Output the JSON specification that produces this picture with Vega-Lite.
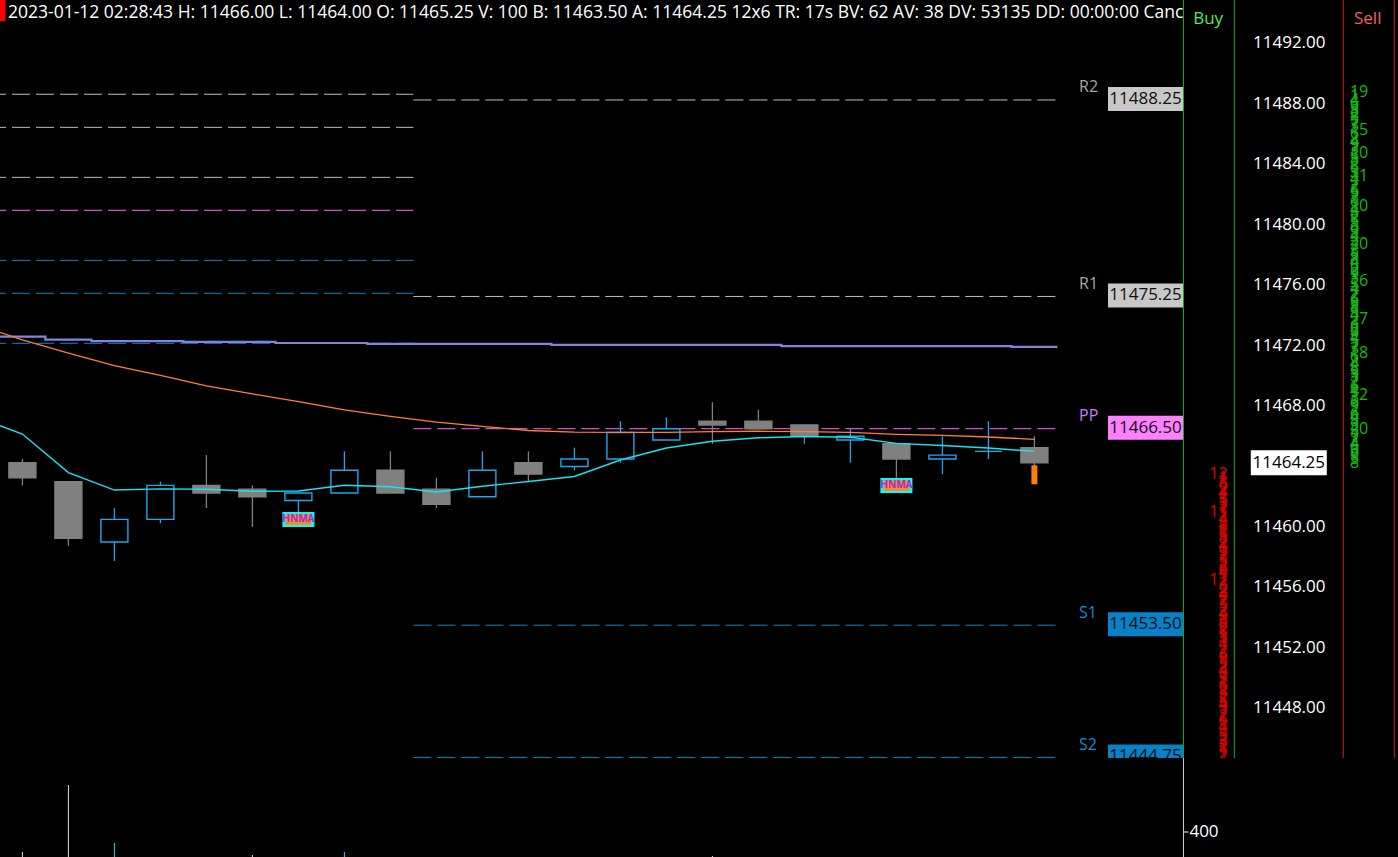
{
  "$schema": "https://vega.github.io/schema/vega-lite/v6.json",
  "width": 1398,
  "height": 857,
  "autosize": {"type": "none"},
  "padding": 0,
  "background": "#000000",
  "config": {
    "view": {"stroke": null},
    "font": "Open Sans",
    "axis": {"disable": true},
    "legend": {"disable": true},
    "scale": {"continuousPadding": 0}
  },
  "datasets": {
    "bars": [
      {"i": 1, "o": 11464.25, "h": 11464.5, "l": 11462.75, "c": 11463.25, "dir": "down", "vol": 240},
      {"i": 2, "o": 11463.0, "h": 11463.0, "l": 11458.75, "c": 11459.25, "dir": "down", "vol": 776},
      {"i": 3, "o": 11459.0, "h": 11461.25, "l": 11457.75, "c": 11460.5, "dir": "up", "vol": 312},
      {"i": 4, "o": 11460.5, "h": 11463.0, "l": 11460.25, "c": 11462.75, "dir": "up", "vol": 150},
      {"i": 5, "o": 11462.75, "h": 11464.75, "l": 11461.25, "c": 11462.25, "dir": "down", "vol": 120},
      {"i": 6, "o": 11462.5, "h": 11462.75, "l": 11460.0, "c": 11462.0, "dir": "down", "vol": 216},
      {"i": 7, "o": 11461.75, "h": 11462.25, "l": 11461.0, "c": 11462.25, "dir": "up", "vol": 90},
      {"i": 8, "o": 11462.25, "h": 11465.0, "l": 11462.25, "c": 11463.75, "dir": "up", "vol": 240},
      {"i": 9, "o": 11463.75, "h": 11465.0, "l": 11462.25, "c": 11462.25, "dir": "down", "vol": 160},
      {"i": 10, "o": 11462.5, "h": 11463.25, "l": 11461.25, "c": 11461.5, "dir": "down", "vol": 130},
      {"i": 11, "o": 11462.0, "h": 11465.0, "l": 11462.0, "c": 11463.75, "dir": "up", "vol": 110},
      {"i": 12, "o": 11464.25, "h": 11465.0, "l": 11463.0, "c": 11463.5, "dir": "down", "vol": 140},
      {"i": 13, "o": 11464.0, "h": 11465.25, "l": 11463.75, "c": 11464.5, "dir": "up", "vol": 95},
      {"i": 14, "o": 11464.5, "h": 11467.0, "l": 11464.25, "c": 11466.25, "dir": "up", "vol": 150},
      {"i": 15, "o": 11465.75, "h": 11467.25, "l": 11465.75, "c": 11466.5, "dir": "up", "vol": 120},
      {"i": 16, "o": 11467.0, "h": 11468.25, "l": 11465.5, "c": 11466.75, "dir": "down", "vol": 208},
      {"i": 17, "o": 11467.0, "h": 11467.75, "l": 11466.5, "c": 11466.5, "dir": "down", "vol": 100},
      {"i": 18, "o": 11466.75, "h": 11466.75, "l": 11465.5, "c": 11466.0, "dir": "down", "vol": 80},
      {"i": 19, "o": 11465.75, "h": 11466.5, "l": 11464.25, "c": 11466.0, "dir": "up", "vol": 120},
      {"i": 20, "o": 11465.5, "h": 11465.5, "l": 11463.25, "c": 11464.5, "dir": "down", "vol": 140},
      {"i": 21, "o": 11464.5, "h": 11466.0, "l": 11463.5, "c": 11464.75, "dir": "up", "vol": 90},
      {"i": 22, "o": 11465.0, "h": 11467.0, "l": 11464.5, "c": 11465.0, "dir": "up", "vol": 110},
      {"i": 23, "o": 11465.25, "h": 11466.0, "l": 11464.0, "c": 11464.25, "dir": "down", "vol": 100}
    ],
    "ma": [
      {"i": 0.513, "p": 11466.70}, {"i": 1, "p": 11466.15}, {"i": 2, "p": 11463.60}, {"i": 3, "p": 11462.44},
      {"i": 4, "p": 11462.52}, {"i": 5, "p": 11462.49}, {"i": 6, "p": 11462.36}, {"i": 7, "p": 11462.38},
      {"i": 8, "p": 11462.76}, {"i": 9, "p": 11462.66}, {"i": 10, "p": 11462.31}, {"i": 11, "p": 11462.69},
      {"i": 12, "p": 11463.01}, {"i": 13, "p": 11463.34}, {"i": 14, "p": 11464.43}, {"i": 15, "p": 11465.22},
      {"i": 16, "p": 11465.67}, {"i": 17, "p": 11465.90}, {"i": 18, "p": 11465.98}, {"i": 19, "p": 11465.93},
      {"i": 20, "p": 11465.53}, {"i": 21, "p": 11465.39}, {"i": 22, "p": 11465.22}, {"i": 23, "p": 11465.00}
    ],
    "ema": [
      {"i": 0.513, "p": 11472.88}, {"i": 1, "p": 11472.38}, {"i": 2, "p": 11471.50}, {"i": 3, "p": 11470.67},
      {"i": 4, "p": 11470.03}, {"i": 5, "p": 11469.34}, {"i": 6, "p": 11468.80}, {"i": 7, "p": 11468.29},
      {"i": 8, "p": 11467.74}, {"i": 9, "p": 11467.31}, {"i": 10, "p": 11466.93}, {"i": 11, "p": 11466.65},
      {"i": 12, "p": 11466.38}, {"i": 13, "p": 11466.28}, {"i": 14, "p": 11466.26}, {"i": 15, "p": 11466.26},
      {"i": 16, "p": 11466.31}, {"i": 17, "p": 11466.33}, {"i": 18, "p": 11466.31}, {"i": 19, "p": 11466.26},
      {"i": 20, "p": 11466.13}, {"i": 21, "p": 11466.06}, {"i": 22, "p": 11465.95}, {"i": 23, "p": 11465.80}
    ],
    "vwap": [
      {"i": 0.513, "p": 11472.59}, {"i": 1.5, "p": 11472.39}, {"i": 2.5, "p": 11472.30}, {"i": 4.5, "p": 11472.24},
      {"i": 6.5, "p": 11472.17}, {"i": 8.5, "p": 11472.11}, {"i": 12.5, "p": 11472.04}, {"i": 17.5, "p": 11471.97},
      {"i": 22.5, "p": 11471.91}, {"i": 23.5, "p": 11471.91}
    ],
    "pivPrev": [
      {"p": 11488.63, "kind": "R"}, {"p": 11486.44, "kind": "R"}, {"p": 11483.13, "kind": "R"},
      {"p": 11480.95, "kind": "PP"},
      {"p": 11477.64, "kind": "S"}, {"p": 11475.46, "kind": "S"}, {"p": 11472.15, "kind": "S"}
    ],
    "pivCur": [
      {"n": "R2", "p": 11488.25, "kind": "R"},
      {"n": "R1", "p": 11475.25, "kind": "R"},
      {"n": "PP", "p": 11466.5, "kind": "PP"},
      {"n": "S1", "p": 11453.5, "kind": "S"},
      {"n": "S2", "p": 11444.75, "kind": "S"}
    ],
    "priceTicks": [
      {"p": 11492}, {"p": 11488}, {"p": 11484}, {"p": 11480}, {"p": 11476}, {"p": 11472},
      {"p": 11468}, {"p": 11460}, {"p": 11456}, {"p": 11452}, {"p": 11448}
    ],
    "volTicks": [{"v": 400}],
    "hnma": [
      {"i": 7, "p": 11460.5, "t": "HNMA"},
      {"i": 20, "p": 11462.75, "t": "HNMA"}
    ],
    "tickbar": [{"i": 23, "p": 11463.45}],
    "head": [{"t": "2023-01-12 02:28:43 H: 11466.00 L: 11464.00 O: 11465.25 V: 100 B: 11463.50 A: 11464.25 12x6 TR: 17s BV: 62 AV: 38 DV: 53135 DD: 00:00:00 Cancel All"}],
    "last": [{"p": 11464.25}],
    "buy": [{"t": "Buy"}],
    "sell": [{"t": "Sell"}],
    "one": [{}],
    "ladderSell": [
      {"p": 11488.75, "v": 19}, {"p": 11488.5, "v": 1}, {"p": 11488.25, "v": 4}, {"p": 11488.0, "v": 6}, {"p": 11487.75, "v": 3},
      {"p": 11487.5, "v": 8}, {"p": 11487.25, "v": 2}, {"p": 11487.0, "v": 5}, {"p": 11486.75, "v": 7}, {"p": 11486.5, "v": 3},
      {"p": 11486.25, "v": 15}, {"p": 11486.0, "v": 6}, {"p": 11485.75, "v": 2}, {"p": 11485.5, "v": 4}, {"p": 11485.25, "v": 9},
      {"p": 11485.0, "v": 3}, {"p": 11484.75, "v": 10}, {"p": 11484.5, "v": 5}, {"p": 11484.25, "v": 8}, {"p": 11484.0, "v": 2},
      {"p": 11483.75, "v": 6}, {"p": 11483.5, "v": 3}, {"p": 11483.25, "v": 11}, {"p": 11483.0, "v": 4}, {"p": 11482.75, "v": 7},
      {"p": 11482.5, "v": 2}, {"p": 11482.25, "v": 5}, {"p": 11482.0, "v": 9}, {"p": 11481.75, "v": 3}, {"p": 11481.5, "v": 6},
      {"p": 11481.25, "v": 10}, {"p": 11481.0, "v": 4}, {"p": 11480.75, "v": 8}, {"p": 11480.5, "v": 2}, {"p": 11480.25, "v": 5},
      {"p": 11480.0, "v": 3}, {"p": 11479.75, "v": 6}, {"p": 11479.5, "v": 9}, {"p": 11479.25, "v": 4}, {"p": 11479.0, "v": 2},
      {"p": 11478.75, "v": 20}, {"p": 11478.5, "v": 7}, {"p": 11478.25, "v": 3}, {"p": 11478.0, "v": 5}, {"p": 11477.75, "v": 8},
      {"p": 11477.5, "v": 4}, {"p": 11477.25, "v": 6}, {"p": 11477.0, "v": 2}, {"p": 11476.75, "v": 9}, {"p": 11476.5, "v": 3},
      {"p": 11476.25, "v": 16}, {"p": 11476.0, "v": 5}, {"p": 11475.75, "v": 4}, {"p": 11475.5, "v": 7}, {"p": 11475.25, "v": 2},
      {"p": 11475.0, "v": 6}, {"p": 11474.75, "v": 3}, {"p": 11474.5, "v": 8}, {"p": 11474.25, "v": 5}, {"p": 11474.0, "v": 4},
      {"p": 11473.75, "v": 27}, {"p": 11473.5, "v": 3}, {"p": 11473.25, "v": 6}, {"p": 11473.0, "v": 2}, {"p": 11472.75, "v": 9},
      {"p": 11472.5, "v": 4}, {"p": 11472.25, "v": 5}, {"p": 11472.0, "v": 7}, {"p": 11471.75, "v": 3}, {"p": 11471.5, "v": 18},
      {"p": 11471.25, "v": 6}, {"p": 11471.0, "v": 2}, {"p": 11470.75, "v": 4}, {"p": 11470.5, "v": 8}, {"p": 11470.25, "v": 5},
      {"p": 11470.0, "v": 3}, {"p": 11469.75, "v": 7}, {"p": 11469.5, "v": 2}, {"p": 11469.25, "v": 6}, {"p": 11469.0, "v": 4},
      {"p": 11468.75, "v": 12}, {"p": 11468.5, "v": 3}, {"p": 11468.25, "v": 5}, {"p": 11468.0, "v": 9}, {"p": 11467.75, "v": 2},
      {"p": 11467.5, "v": 6}, {"p": 11467.25, "v": 4}, {"p": 11467.0, "v": 8}, {"p": 11466.75, "v": 3}, {"p": 11466.5, "v": 20},
      {"p": 11466.25, "v": 5}, {"p": 11466.0, "v": 7}, {"p": 11465.75, "v": 2}, {"p": 11465.5, "v": 4}, {"p": 11465.25, "v": 6},
      {"p": 11465.0, "v": 3}, {"p": 11464.75, "v": 9}, {"p": 11464.5, "v": 5}, {"p": 11464.25, "v": 8}
    ],
    "ladderBuy": [
      {"p": 11463.5, "v": 12}, {"p": 11463.25, "v": 1}, {"p": 11463.0, "v": 3}, {"p": 11462.75, "v": 6}, {"p": 11462.5, "v": 2},
      {"p": 11462.25, "v": 4}, {"p": 11462.0, "v": 1}, {"p": 11461.75, "v": 5}, {"p": 11461.5, "v": 3}, {"p": 11461.25, "v": 7},
      {"p": 11461.0, "v": 11}, {"p": 11460.75, "v": 2}, {"p": 11460.5, "v": 4}, {"p": 11460.25, "v": 3}, {"p": 11460.0, "v": 6},
      {"p": 11459.75, "v": 1}, {"p": 11459.5, "v": 5}, {"p": 11459.25, "v": 8}, {"p": 11459.0, "v": 2}, {"p": 11458.75, "v": 4},
      {"p": 11458.5, "v": 1}, {"p": 11458.25, "v": 9}, {"p": 11458.0, "v": 3}, {"p": 11457.75, "v": 5}, {"p": 11457.5, "v": 2},
      {"p": 11457.25, "v": 6}, {"p": 11457.0, "v": 4}, {"p": 11456.75, "v": 1}, {"p": 11456.5, "v": 12}, {"p": 11456.25, "v": 3},
      {"p": 11456.0, "v": 6}, {"p": 11455.75, "v": 2}, {"p": 11455.5, "v": 4}, {"p": 11455.25, "v": 7}, {"p": 11455.0, "v": 3},
      {"p": 11454.75, "v": 5}, {"p": 11454.5, "v": 2}, {"p": 11454.25, "v": 4}, {"p": 11454.0, "v": 8}, {"p": 11453.75, "v": 3},
      {"p": 11453.5, "v": 6}, {"p": 11453.25, "v": 2}, {"p": 11453.0, "v": 5}, {"p": 11452.75, "v": 3}, {"p": 11452.5, "v": 1},
      {"p": 11452.25, "v": 4}, {"p": 11452.0, "v": 7}, {"p": 11451.75, "v": 2}, {"p": 11451.5, "v": 6}, {"p": 11451.25, "v": 3},
      {"p": 11451.0, "v": 5}, {"p": 11450.75, "v": 2}, {"p": 11450.5, "v": 4}, {"p": 11450.25, "v": 8}, {"p": 11450.0, "v": 3},
      {"p": 11449.75, "v": 1}, {"p": 11449.5, "v": 6}, {"p": 11449.25, "v": 2}, {"p": 11449.0, "v": 3}, {"p": 11448.75, "v": 2},
      {"p": 11448.5, "v": 5}, {"p": 11448.25, "v": 4}, {"p": 11448.0, "v": 3}, {"p": 11447.75, "v": 7}, {"p": 11447.5, "v": 2},
      {"p": 11447.25, "v": 6}, {"p": 11447.0, "v": 1}, {"p": 11446.75, "v": 4}, {"p": 11446.5, "v": 3}, {"p": 11446.25, "v": 5},
      {"p": 11446.0, "v": 2}, {"p": 11445.75, "v": 3}, {"p": 11445.5, "v": 2}, {"p": 11445.25, "v": 1}, {"p": 11445.0, "v": 2},
      {"p": 11444.75, "v": 2}
    ]
  },
  "resolve": {"scale": {"y": "independent"}},
  "layer": [
    {
      "layer": [
        {
          "data": {"name": "pivPrev"},
          "mark": {"type": "rule", "strokeWidth": 1, "strokeDash": [18, 6], "strokeDashOffset": 12},
          "encoding": {
            "x": {"datum": 0.513, "type": "quantitative", "scale": {"domain": [0.513, 30.904], "nice": false, "zero": false, "padding": 0}},
            "x2": {"datum": 9.5},
            "y": {"field": "p", "type": "quantitative", "scale": {"domain": [11438.162, 11494.865], "nice": false, "zero": false, "padding": 0}},
            "stroke": {"field": "kind", "type": "nominal", "scale": {"domain": ["R", "PP", "S", "up", "down"], "range": ["#c0c0c0", "#ff66ff", "#0a84cc", "#1ea7ef", "#808080"]}}
          }
        },
        {
          "data": {"name": "pivCur"},
          "mark": {"type": "rule", "strokeWidth": 1, "strokeDash": [18, 6]},
          "encoding": {
            "x": {"datum": 9.5, "type": "quantitative", "scale": {"domain": [0.513, 30.904], "nice": false, "zero": false, "padding": 0}},
            "x2": {"datum": 23.5},
            "y": {"field": "p", "type": "quantitative", "scale": {"domain": [11438.162, 11494.865], "nice": false, "zero": false, "padding": 0}},
            "stroke": {"field": "kind", "type": "nominal", "scale": {"domain": ["R", "PP", "S", "up", "down"], "range": ["#c0c0c0", "#ff66ff", "#0a84cc", "#1ea7ef", "#808080"]}}
          }
        },
        {
          "data": {"name": "bars"},
          "mark": {"type": "rule", "strokeWidth": 1.3},
          "encoding": {
            "x": {"field": "i", "type": "quantitative", "scale": {"domain": [0.513, 30.904], "nice": false, "zero": false, "padding": 0}},
            "y": {"field": "l", "type": "quantitative", "scale": {"domain": [11438.162, 11494.865], "nice": false, "zero": false, "padding": 0}},
            "y2": {"field": "h"},
            "stroke": {"field": "dir", "type": "nominal", "scale": {"domain": ["R", "PP", "S", "up", "down"], "range": ["#c0c0c0", "#ff66ff", "#0a84cc", "#1ea7ef", "#808080"]}}
          }
        },
        {
          "data": {"name": "bars"},
          "mark": {"type": "bar", "size": 27, "strokeWidth": 1.4},
          "encoding": {
            "x": {"field": "i", "type": "quantitative", "scale": {"domain": [0.513, 30.904], "nice": false, "zero": false, "padding": 0}},
            "y": {"field": "o", "type": "quantitative", "scale": {"domain": [11438.162, 11494.865], "nice": false, "zero": false, "padding": 0}},
            "y2": {"field": "c"},
            "fill": {"field": "dir", "type": "nominal", "scale": {"domain": ["R", "PP", "S", "up", "down"], "range": ["#a8a8a8", "#c878ff", "#1a8ad4", "#000000", "#808080"]}},
            "stroke": {"field": "dir", "type": "nominal", "scale": {"domain": ["R", "PP", "S", "up", "down"], "range": ["#c0c0c0", "#ff66ff", "#0a84cc", "#1ea7ef", "#808080"]}}
          }
        },
        {
          "data": {"name": "vwap"},
          "mark": {"type": "line", "color": "#8484dc", "strokeWidth": 2.2, "interpolate": "step-after"},
          "encoding": {
            "x": {"field": "i", "type": "quantitative", "scale": {"domain": [0.513, 30.904], "nice": false, "zero": false, "padding": 0}},
            "y": {"field": "p", "type": "quantitative", "scale": {"domain": [11438.162, 11494.865], "nice": false, "zero": false, "padding": 0}}
          }
        },
        {
          "data": {"name": "ema"},
          "mark": {"type": "line", "color": "#ff7f3a", "strokeWidth": 1.3},
          "encoding": {
            "x": {"field": "i", "type": "quantitative", "scale": {"domain": [0.513, 30.904], "nice": false, "zero": false, "padding": 0}},
            "y": {"field": "p", "type": "quantitative", "scale": {"domain": [11438.162, 11494.865], "nice": false, "zero": false, "padding": 0}}
          }
        },
        {
          "data": {"name": "ma"},
          "mark": {"type": "line", "color": "#16e4ee", "strokeWidth": 1.4},
          "encoding": {
            "x": {"field": "i", "type": "quantitative", "scale": {"domain": [0.513, 30.904], "nice": false, "zero": false, "padding": 0}},
            "y": {"field": "p", "type": "quantitative", "scale": {"domain": [11438.162, 11494.865], "nice": false, "zero": false, "padding": 0}}
          }
        },
        {
          "data": {"name": "hnma"},
          "mark": {"type": "tick", "orient": "horizontal", "size": 32, "thickness": 15, "color": "#00ffff", "opacity": 1},
          "encoding": {
            "x": {"field": "i", "type": "quantitative", "scale": {"domain": [0.513, 30.904], "nice": false, "zero": false, "padding": 0}},
            "y": {"field": "p", "type": "quantitative", "scale": {"domain": [11438.162, 11494.865], "nice": false, "zero": false, "padding": 0}}
          }
        },
        {
          "data": {"name": "hnma"},
          "mark": {"type": "tick", "orient": "horizontal", "size": 26, "thickness": 11, "color": "#ff8a1e", "opacity": 1},
          "encoding": {
            "x": {"field": "i", "type": "quantitative", "scale": {"domain": [0.513, 30.904], "nice": false, "zero": false, "padding": 0}},
            "y": {"field": "p", "type": "quantitative", "scale": {"domain": [11438.162, 11494.865], "nice": false, "zero": false, "padding": 0}}
          }
        },
        {
          "data": {"name": "hnma"},
          "mark": {"type": "text", "fontSize": 10, "fontWeight": "bold", "color": "#9a2ee0", "align": "center", "baseline": "middle"},
          "encoding": {
            "x": {"field": "i", "type": "quantitative", "scale": {"domain": [0.513, 30.904], "nice": false, "zero": false, "padding": 0}},
            "y": {"field": "p", "type": "quantitative", "scale": {"domain": [11438.162, 11494.865], "nice": false, "zero": false, "padding": 0}},
            "text": {"field": "t"}
          }
        },
        {
          "data": {"name": "tickbar"},
          "mark": {"type": "tick", "orient": "vertical", "size": 19, "thickness": 6, "color": "#ff8000", "opacity": 1},
          "encoding": {
            "x": {"field": "i", "type": "quantitative", "scale": {"domain": [0.513, 30.904], "nice": false, "zero": false, "padding": 0}},
            "y": {"field": "p", "type": "quantitative", "scale": {"domain": [11438.162, 11494.865], "nice": false, "zero": false, "padding": 0}}
          }
        },
        {
          "data": {"name": "head"},
          "mark": {"type": "text", "align": "left", "baseline": "middle", "fontSize": 17.5, "color": "#ffffff"},
          "encoding": {
            "x": {"datum": 0.687, "type": "quantitative", "scale": {"domain": [0.513, 30.904], "nice": false, "zero": false, "padding": 0}},
            "y": {"datum": 11494.0, "type": "quantitative", "scale": {"domain": [11438.162, 11494.865], "nice": false, "zero": false, "padding": 0}},
            "text": {"field": "t"}
          }
        },
        {
          "data": {"name": "one"},
          "mark": {"type": "tick", "orient": "vertical", "size": 22, "thickness": 6, "color": "#ff0000", "opacity": 1},
          "encoding": {
            "x": {"datum": 0.567, "type": "quantitative", "scale": {"domain": [0.513, 30.904], "nice": false, "zero": false, "padding": 0}},
            "y": {"datum": 11494.2, "type": "quantitative", "scale": {"domain": [11438.162, 11494.865], "nice": false, "zero": false, "padding": 0}}
          }
        },
        {
          "data": {"name": "one"},
          "mark": {"type": "rect", "color": "#000000"},
          "encoding": {
            "x": {"datum": 26.24, "type": "quantitative", "scale": {"domain": [0.513, 30.904], "nice": false, "zero": false, "padding": 0}},
            "x2": {"datum": 30.904},
            "y": {"datum": 11494.865, "type": "quantitative", "scale": {"domain": [11438.162, 11494.865], "nice": false, "zero": false, "padding": 0}},
            "y2": {"datum": 11444.71}
          }
        },
        {
          "data": {"name": "one"},
          "mark": {"type": "rule", "color": "#16b016", "strokeWidth": 1},
          "encoding": {
            "x": {"datum": 26.24, "type": "quantitative", "scale": {"domain": [0.513, 30.904], "nice": false, "zero": false, "padding": 0}},
            "y": {"datum": 11494.865, "type": "quantitative", "scale": {"domain": [11438.162, 11494.865], "nice": false, "zero": false, "padding": 0}},
            "y2": {"datum": 11444.71}
          }
        },
        {
          "data": {"name": "one"},
          "mark": {"type": "rule", "color": "#16b016", "strokeWidth": 1},
          "encoding": {
            "x": {"datum": 27.346, "type": "quantitative", "scale": {"domain": [0.513, 30.904], "nice": false, "zero": false, "padding": 0}},
            "y": {"datum": 11494.865, "type": "quantitative", "scale": {"domain": [11438.162, 11494.865], "nice": false, "zero": false, "padding": 0}},
            "y2": {"datum": 11444.71}
          }
        },
        {
          "data": {"name": "one"},
          "mark": {"type": "rule", "color": "#d81818", "strokeWidth": 1},
          "encoding": {
            "x": {"datum": 29.715, "type": "quantitative", "scale": {"domain": [0.513, 30.904], "nice": false, "zero": false, "padding": 0}},
            "y": {"datum": 11494.865, "type": "quantitative", "scale": {"domain": [11438.162, 11494.865], "nice": false, "zero": false, "padding": 0}},
            "y2": {"datum": 11444.71}
          }
        },
        {
          "data": {"name": "one"},
          "mark": {"type": "rule", "color": "#d81818", "strokeWidth": 1},
          "encoding": {
            "x": {"datum": 30.824, "type": "quantitative", "scale": {"domain": [0.513, 30.904], "nice": false, "zero": false, "padding": 0}},
            "y": {"datum": 11494.865, "type": "quantitative", "scale": {"domain": [11438.162, 11494.865], "nice": false, "zero": false, "padding": 0}},
            "y2": {"datum": 11444.71}
          }
        },
        {
          "data": {"name": "buy"},
          "mark": {"type": "text", "align": "center", "baseline": "middle", "fontSize": 17, "color": "#5ce65c"},
          "encoding": {
            "x": {"datum": 26.777, "type": "quantitative", "scale": {"domain": [0.513, 30.904], "nice": false, "zero": false, "padding": 0}},
            "y": {"datum": 11493.61, "type": "quantitative", "scale": {"domain": [11438.162, 11494.865], "nice": false, "zero": false, "padding": 0}},
            "text": {"field": "t"}
          }
        },
        {
          "data": {"name": "sell"},
          "mark": {"type": "text", "align": "center", "baseline": "middle", "fontSize": 17, "color": "#f2605a"},
          "encoding": {
            "x": {"datum": 30.245, "type": "quantitative", "scale": {"domain": [0.513, 30.904], "nice": false, "zero": false, "padding": 0}},
            "y": {"datum": 11493.61, "type": "quantitative", "scale": {"domain": [11438.162, 11494.865], "nice": false, "zero": false, "padding": 0}},
            "text": {"field": "t"}
          }
        },
        {
          "data": {"name": "priceTicks"},
          "mark": {"type": "text", "align": "left", "baseline": "middle", "fontSize": 17, "color": "#ffffff"},
          "encoding": {
            "x": {"datum": 27.752, "type": "quantitative", "scale": {"domain": [0.513, 30.904], "nice": false, "zero": false, "padding": 0}},
            "y": {"field": "p", "type": "quantitative", "scale": {"domain": [11438.162, 11494.865], "nice": false, "zero": false, "padding": 0}},
            "text": {"field": "p", "type": "quantitative", "format": ".2f"}
          }
        },
        {
          "data": {"name": "pivCur"},
          "mark": {"type": "text", "align": "left", "baseline": "middle", "fontSize": 16, "dy": -12.5},
          "encoding": {
            "x": {"datum": 23.97, "type": "quantitative", "scale": {"domain": [0.513, 30.904], "nice": false, "zero": false, "padding": 0}},
            "y": {"field": "p", "type": "quantitative", "scale": {"domain": [11438.162, 11494.865], "nice": false, "zero": false, "padding": 0}},
            "text": {"field": "n"},
            "fill": {"field": "kind", "type": "nominal", "scale": {"domain": ["R", "PP", "S", "up", "down"], "range": ["#a8a8a8", "#c878ff", "#1a8ad4", "#000000", "#808080"]}}
          }
        },
        {
          "data": {"name": "pivCur"},
          "mark": {"type": "tick", "orient": "horizontal", "size": 75, "thickness": 24, "opacity": 1, "yOffset": -1},
          "encoding": {
            "x": {"datum": 25.415, "type": "quantitative", "scale": {"domain": [0.513, 30.904], "nice": false, "zero": false, "padding": 0}},
            "y": {"field": "p", "type": "quantitative", "scale": {"domain": [11438.162, 11494.865], "nice": false, "zero": false, "padding": 0}},
            "color": {"field": "kind", "type": "nominal", "scale": {"domain": ["R", "PP", "S", "up", "down"], "range": ["#c8c8c8", "#ff80ff", "#0a80c8", "#00e0ee", "#e0e0e0"]}}
          }
        },
        {
          "data": {"name": "pivCur"},
          "mark": {"type": "text", "align": "center", "baseline": "middle", "fontSize": 17, "color": "#101010", "dy": -1},
          "encoding": {
            "x": {"datum": 25.415, "type": "quantitative", "scale": {"domain": [0.513, 30.904], "nice": false, "zero": false, "padding": 0}},
            "y": {"field": "p", "type": "quantitative", "scale": {"domain": [11438.162, 11494.865], "nice": false, "zero": false, "padding": 0}},
            "text": {"field": "p", "type": "quantitative", "format": ".2f"}
          }
        },
        {
          "data": {"name": "ladderSell"},
          "mark": {"type": "text", "align": "left", "baseline": "middle", "fontSize": 16, "color": "#16b816"},
          "encoding": {
            "x": {"datum": 29.86, "type": "quantitative", "scale": {"domain": [0.513, 30.904], "nice": false, "zero": false, "padding": 0}},
            "y": {"field": "p", "type": "quantitative", "scale": {"domain": [11438.162, 11494.865], "nice": false, "zero": false, "padding": 0}},
            "text": {"field": "v"}
          }
        },
        {
          "data": {"name": "ladderBuy"},
          "mark": {"type": "text", "align": "right", "baseline": "middle", "fontSize": 16, "color": "#e00000"},
          "encoding": {
            "x": {"datum": 27.2, "type": "quantitative", "scale": {"domain": [0.513, 30.904], "nice": false, "zero": false, "padding": 0}},
            "y": {"field": "p", "type": "quantitative", "scale": {"domain": [11438.162, 11494.865], "nice": false, "zero": false, "padding": 0}},
            "text": {"field": "v"}
          }
        },
        {
          "data": {"name": "last"},
          "mark": {"type": "tick", "orient": "horizontal", "size": 76, "thickness": 25, "color": "#ffffff", "opacity": 1},
          "encoding": {
            "x": {"datum": 28.53, "type": "quantitative", "scale": {"domain": [0.513, 30.904], "nice": false, "zero": false, "padding": 0}},
            "y": {"field": "p", "type": "quantitative", "scale": {"domain": [11438.162, 11494.865], "nice": false, "zero": false, "padding": 0}}
          }
        },
        {
          "data": {"name": "last"},
          "mark": {"type": "text", "align": "center", "baseline": "middle", "fontSize": 17, "color": "#000000"},
          "encoding": {
            "x": {"datum": 28.53, "type": "quantitative", "scale": {"domain": [0.513, 30.904], "nice": false, "zero": false, "padding": 0}},
            "y": {"field": "p", "type": "quantitative", "scale": {"domain": [11438.162, 11494.865], "nice": false, "zero": false, "padding": 0}},
            "text": {"field": "p", "type": "quantitative", "format": ".2f"}
          }
        },
        {
          "data": {"name": "one"},
          "mark": {"type": "rect", "color": "#000000"},
          "encoding": {
            "x": {"datum": 0.513, "type": "quantitative", "scale": {"domain": [0.513, 30.904], "nice": false, "zero": false, "padding": 0}},
            "x2": {"datum": 30.904},
            "y": {"datum": 11444.71, "type": "quantitative", "scale": {"domain": [11438.162, 11494.865], "nice": false, "zero": false, "padding": 0}},
            "y2": {"datum": 11438.162}
          }
        }
      ]
    },
    {
      "layer": [
        {
          "data": {"name": "bars"},
          "mark": {"type": "rule", "strokeWidth": 1},
          "encoding": {
            "x": {"field": "i", "type": "quantitative", "scale": {"domain": [0.513, 30.904], "nice": false, "zero": false, "padding": 0}},
            "y": {"field": "vol", "type": "quantitative", "scale": {"domain": [200, 7056], "nice": false, "zero": false, "padding": 0}},
            "y2": {"datum": 200},
            "color": {"field": "dir", "type": "nominal", "scale": {"domain": ["R", "PP", "S", "up", "down"], "range": ["#c8c8c8", "#ff80ff", "#0a80c8", "#00e0ee", "#e0e0e0"]}}
          }
        },
        {
          "data": {"name": "one"},
          "mark": {"type": "rule", "color": "#d0d0d0", "strokeWidth": 1},
          "encoding": {
            "x": {"datum": 26.24, "type": "quantitative", "scale": {"domain": [0.513, 30.904], "nice": false, "zero": false, "padding": 0}},
            "y": {"datum": 200, "type": "quantitative", "scale": {"domain": [200, 7056], "nice": false, "zero": false, "padding": 0}},
            "y2": {"datum": 992}
          }
        },
        {
          "data": {"name": "volTicks"},
          "mark": {"type": "rule", "color": "#ffffff", "strokeWidth": 1},
          "encoding": {
            "x": {"datum": 26.24, "type": "quantitative", "scale": {"domain": [0.513, 30.904], "nice": false, "zero": false, "padding": 0}},
            "x2": {"datum": 26.35},
            "y": {"field": "v", "type": "quantitative", "scale": {"domain": [200, 7056], "nice": false, "zero": false, "padding": 0}}
          }
        },
        {
          "data": {"name": "volTicks"},
          "mark": {"type": "text", "align": "left", "baseline": "middle", "fontSize": 17, "color": "#ffffff"},
          "encoding": {
            "x": {"datum": 26.37, "type": "quantitative", "scale": {"domain": [0.513, 30.904], "nice": false, "zero": false, "padding": 0}},
            "y": {"field": "v", "type": "quantitative", "scale": {"domain": [200, 7056], "nice": false, "zero": false, "padding": 0}},
            "text": {"field": "v", "type": "quantitative"}
          }
        }
      ]
    }
  ]
}
